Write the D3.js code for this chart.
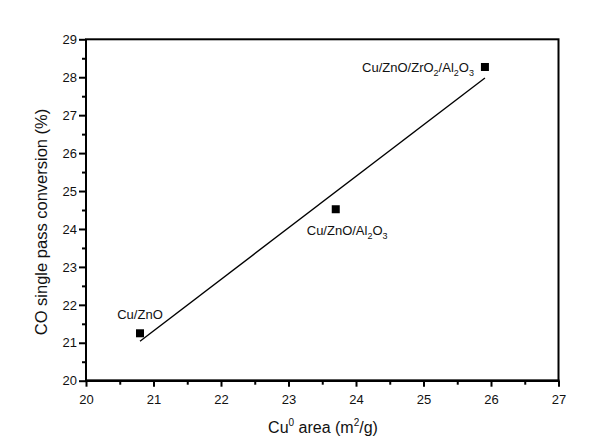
<!DOCTYPE html>
<html>
<head>
<meta charset="utf-8">
<script src="https://cdn.jsdelivr.net/npm/d3@7/dist/d3.min.js"></script>
<style>
  html, body { margin: 0; padding: 0; background: #fff; }
  svg { display: block; font-family: "Liberation Sans", Arial, sans-serif; }
</style>
</head>
<body>
<svg id="chart" width="612" height="445"></svg>
<script>
// ---- data ----
const catalysts = ["Cu/ZnO", "Cu/ZnO/Al_2O_3", "Cu/ZnO/ZrO_2/Al_2O_3"];
const cuArea = [20.8, 23.7, 25.91];
const coConversion = [21.25, 24.52, 28.27];
const fitX = [20.8, 25.91];
const fitY = [21.04, 27.98];
const xTicks = [20, 21, 22, 23, 24, 25, 26, 27];
const yTicks = [20, 21, 22, 23, 24, 25, 26, 27, 28, 29];
const xMinor = [20.5, 21.5, 22.5, 23.5, 24.5, 25.5, 26.5];
const yMinor = [20.5, 21.5, 22.5, 23.5, 24.5, 25.5, 26.5, 27.5, 28.5];

// ---- layout ----
const L = 86, R = 558.5, T = 39.3, B = 380.7;
const svg = d3.select("#chart");
const x = d3.scaleLinear().domain([20, 27]).range([L, R]);
const y = d3.scaleLinear().domain([20, 29]).range([B, T]);

// axes ticks
const gx = svg.append("g").attr("transform", `translate(0,${B})`)
  .call(d3.axisBottom(x).tickValues(xTicks).tickSize(6).tickPadding(8).tickFormat(d3.format("d")));
const gxm = svg.append("g").attr("transform", `translate(0,${B})`)
  .call(d3.axisBottom(x).tickValues(xMinor).tickSize(4).tickFormat(""));
const gy = svg.append("g").attr("transform", `translate(${L},0)`)
  .call(d3.axisLeft(y).tickValues(yTicks).tickSize(7).tickPadding(2).tickFormat(d3.format("d")));
const gym = svg.append("g").attr("transform", `translate(${L},0)`)
  .call(d3.axisLeft(y).tickValues(yMinor).tickSize(4).tickFormat(""));

[gx, gxm, gy, gym].forEach(g => {
  g.select(".domain").remove();
  g.selectAll(".tick line").attr("stroke", "#000").attr("stroke-width", 2);
  g.selectAll(".tick text").attr("fill", "#111").style("font-size", "13px")
    .style("font-family", "'Liberation Sans', Arial, sans-serif");
});

// frame
svg.append("rect").attr("x", L).attr("y", T).attr("width", R - L).attr("height", B - T)
  .attr("fill", "none").attr("stroke", "#000").attr("stroke-width", 2);
svg.append("line").attr("x1", L - 1).attr("x2", R + 1).attr("y1", B).attr("y2", B)
  .attr("stroke", "#000").attr("stroke-width", 2.6);

// fit line
svg.append("path")
  .datum(fitX.map((v, i) => [v, fitY[i]]))
  .attr("d", d3.line().x(d => x(d[0])).y(d => y(d[1])))
  .attr("fill", "none").attr("stroke", "#000").attr("stroke-width", 1.4);

// points
const pts = cuArea.map((v, i) => ({ x: v, y: coConversion[i], name: catalysts[i] }));
const sq = 8;
svg.selectAll("rect.pt").data(pts).enter().append("rect").attr("class", "pt")
  .attr("x", d => x(d.x) - sq / 2).attr("y", d => y(d.y) - sq / 2)
  .attr("width", sq).attr("height", sq).attr("fill", "#000");

// point labels (offsets relative to points)
const labelPlacement = [
  { dx: 0, dy: -14, anchor: "middle" },
  { dx: -29, dy: 26, anchor: "start" },
  { dx: -11, dy: 5, anchor: "end" }
];
pts.forEach((d, i) => {
  const p = labelPlacement[i];
  const t = svg.append("text")
    .attr("x", x(d.x) + p.dx).attr("y", y(d.y) + p.dy)
    .attr("text-anchor", p.anchor).attr("fill", "#111").style("font-size", "13px");
  // parse subscripts marked with _
  const parts = d.name.split(/(_\d)/).filter(s => s.length);
  let sub = false;
  parts.forEach(s => {
    if (s.startsWith("_")) {
      t.append("tspan").attr("dy", 4).style("font-size", "9px").text(s.slice(1));
      sub = true;
    } else {
      t.append("tspan").attr("dy", sub ? -4 : 0).text(s);
      sub = false;
    }
  });
});

// x axis title
const xt = svg.append("text").attr("x", 323).attr("y", 433).attr("text-anchor", "middle")
  .attr("fill", "#111").style("font-size", "16px");
xt.append("tspan").text("Cu");
xt.append("tspan").attr("dy", -7).style("font-size", "10px").text("0");
xt.append("tspan").attr("dy", 7).text(" area (m");
xt.append("tspan").attr("dy", -7).style("font-size", "10px").text("2");
xt.append("tspan").attr("dy", 7).text("/g)");

// y axis title
svg.append("text").attr("transform", "translate(47,222) rotate(-90)")
  .attr("text-anchor", "middle").attr("fill", "#111").style("font-size", "16.5px")
  .text("CO single pass conversion (%)");
</script>
</body>
</html>
